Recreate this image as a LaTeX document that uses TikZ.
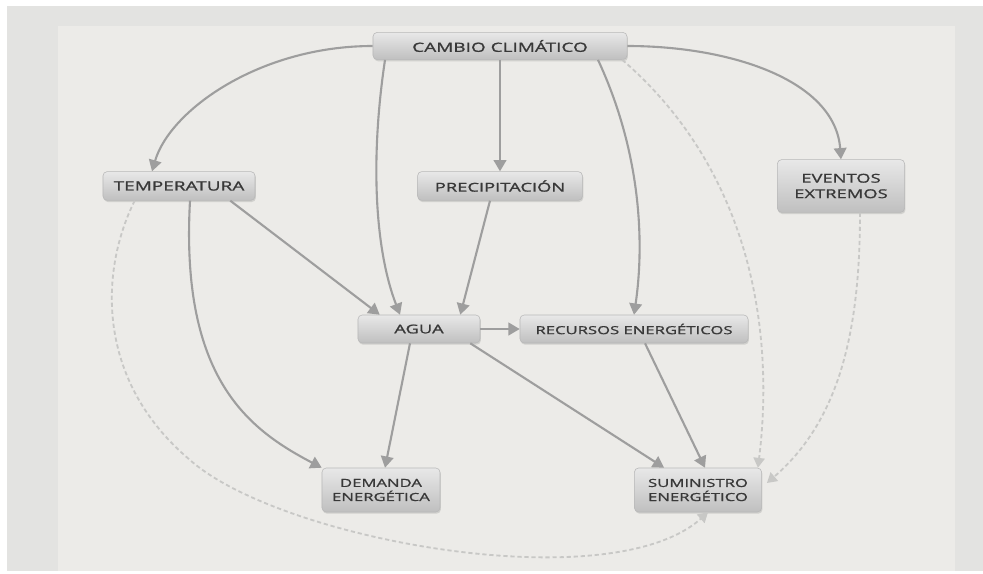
\documentclass[tikz,border=0pt]{standalone}
\usepackage{fontspec}
\setmainfont{Open Sans}[FakeStretch=1.5,FakeBold=1.2]
\usetikzlibrary{arrows.meta,calc,shadows}
\definecolor{fondo}{HTML}{E3E3E1}
\definecolor{panel}{HTML}{ECEBE8}
\definecolor{linea}{HTML}{9E9E9E}
\definecolor{guion}{HTML}{C8C8C6}
\definecolor{texto}{HTML}{383838}
\begin{document}
\begin{tikzpicture}[x=0.025cm, y=-0.025cm,
  caja/.style={draw=black!28, rounded corners=3pt, top color=black!9, bottom color=black!25,
    text=texto, align=center, inner sep=0pt, font=\fontsize{8.7}{11}\selectfont,
    drop shadow={shadow xshift=0.6pt, shadow yshift=-1.2pt, opacity=0.25}},
  chica/.style={font=\fontsize{7.9}{10}\selectfont},
  grande/.style={font=\fontsize{9}{11}\selectfont},
  flecha/.style={draw=linea, line width=1.5pt, -{Triangle[length=8pt,width=9pt]}},
  punteada/.style={draw=guion, line width=1.3pt, dash pattern=on 3pt off 2pt, -{Triangle[length=7pt,width=8pt]}}]
\useasboundingbox (0,0) rectangle (983,573);
\fill[white] (0,0) rectangle (983,573);
\fill[fondo] (7,6) rectangle (983,571);
\fill[panel] (58,26) rectangle (955,571);

\node[caja, grande, minimum width=6.35cm, minimum height=0.68cm] (cambio) at (500,46) {CAMBIO CLIMÁTICO};
\node[caja, grande, minimum width=3.8cm, minimum height=0.72cm] (temp) at (179,186) {TEMPERATURA};
\node[caja, minimum width=4.12cm, minimum height=0.72cm] (precip) at (500,186) {PRECIPITACIÓN};
\node[caja, minimum width=3.18cm, minimum height=1.32cm] (eventos) at (841,186) {EVENTOS\\EXTREMOS};
\node[caja, minimum width=3.05cm, minimum height=0.7cm] (agua) at (419,329) {AGUA};
\node[caja, chica, minimum width=5.7cm, minimum height=0.7cm] (recursos) at (634,329) {RECURSOS ENERGÉTICOS};
\node[caja, chica, minimum width=2.95cm, minimum height=1.1cm] (demanda) at (381,490) {DEMANDA\\ENERGÉTICA};
\node[caja, chica, minimum width=3.18cm, minimum height=1.1cm] (suministro) at (698,490) {SUMINISTRO\\ENERGÉTICO};

\draw[flecha] (cambio.west) .. controls (260,46) and (170,110) .. ($(temp.north)+(-27,0)$);
\draw[flecha] ($(cambio.south)+(-115,0)$) .. controls (370,160) and (375,250) .. ($(agua.north)+(-19,0)$);
\draw[flecha] (cambio.south) -- (precip.north);
\draw[flecha] ($(cambio.south)+(98,0)$) .. controls (640,150) and (645,240) .. (recursos.north);
\draw[flecha] (cambio.east) .. controls (730,46) and (835,80) .. (eventos.north);
\draw[punteada] ($(cambio.south east)+(-5,0)$) .. controls (750,170) and (775,330) .. ($(suministro.north east)+(-4,0)$);
\draw[flecha] ($(temp.south east)+(-25,0)$) -- ($(agua.north west)+(22,0)$);
\draw[flecha] ($(temp.south)+(11,0)$) .. controls (180,380) and (250,430) .. (demanda.north west);
\draw[punteada] ($(temp.south west)+(32,0)$) .. controls (100,270) and (95,380) .. (190,460)
  .. controls (280,540) and (610,600) .. ($(suministro.south)+(10,0)$);
\draw[flecha] ($(precip.south)+(-10,0)$) -- ($(agua.north east)+(-20,0)$);
\draw[flecha] (agua.east) -- (recursos.west);
\draw[flecha] ($(agua.south)+(-9,0)$) -- ($(demanda.north)+(4,0)$);
\draw[flecha] ($(agua.south east)+(-10,0)$) -- ($(suministro.north west)+(30,0)$);
\draw[flecha] ($(recursos.south)+(11,0)$) -- ($(suministro.north)+(7,0)$);
\draw[punteada] ($(eventos.south)+(19,0)$) .. controls (860,330) and (840,420) .. ($(suministro.east)+(5,-7)$);
\end{tikzpicture}
\end{document}
